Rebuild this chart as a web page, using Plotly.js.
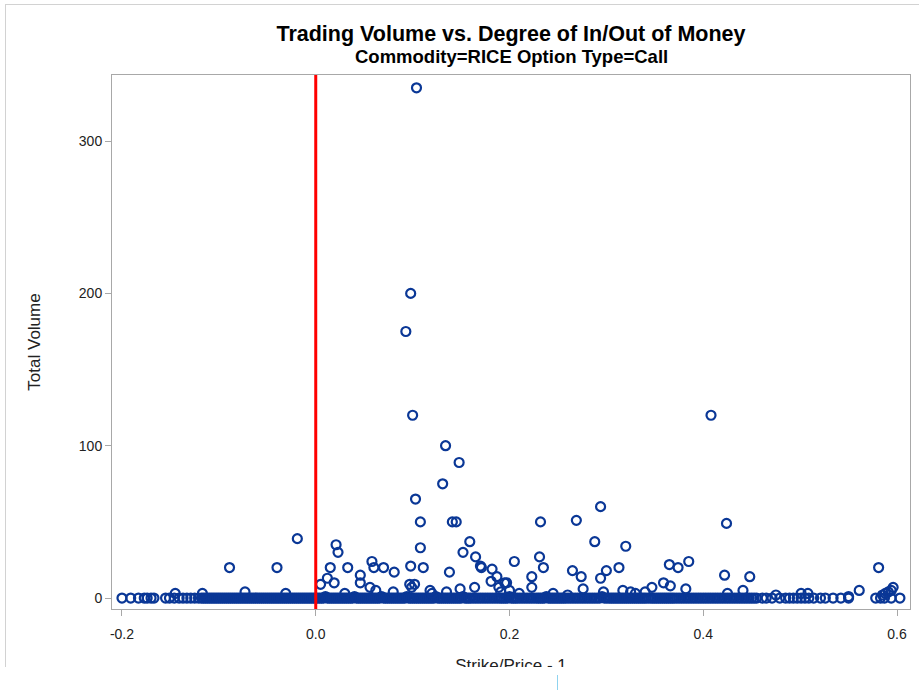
<!DOCTYPE html>
<html>
<head>
<meta charset="utf-8">
<script src="https://cdn.plot.ly/plotly-3.0.1.min.js"></script>
<style>
  html, body { margin: 0; padding: 0; background: #ffffff; }
  #wrap { position: relative; width: 919px; height: 690px; overflow: hidden; }
  #chart { position: absolute; left: 0; top: 0; width: 919px; height: 690px; }
  #frame { position: absolute; left: 5px; top: 4px; width: 914px; height: 663px;
           border-left: 1px solid #d2d2d2; border-top: 1px solid #d2d2d2;
           pointer-events: none; z-index: 5; }
  #cut { position: absolute; left: 0; top: 667px; width: 919px; height: 23px;
         background: #ffffff; z-index: 10; }
  #mark { position: absolute; left: 557px; top: 675px; width: 1px; height: 15px;
          background: #8fd3ef; z-index: 11; }
</style>
</head>
<body>
<div id="wrap">
  <div id="chart"></div>
  <div id="frame"></div>
  <div id="cut"></div>
  <div id="mark"></div>
</div>
<script>
// ---- Data ----
// Strike/Price - 1 for the dense low-volume band along the bottom
var bandX = [
  -0.200,-0.191,-0.183,-0.177,-0.174,-0.170,-0.167,-0.155,-0.151,-0.146,
  -0.141,-0.137,-0.133,-0.129,-0.125,-0.121,
  -0.118,-0.116,-0.114,-0.112,-0.110,-0.108,-0.106,-0.104,-0.102,-0.100,
  -0.098,-0.096,-0.094,-0.092,-0.090,-0.088,-0.086,-0.084,-0.082,-0.080,
  -0.078,-0.076,-0.074,-0.072,-0.070,-0.068,-0.066,-0.064,-0.062,-0.060,
  -0.058,-0.056,-0.054,-0.052,-0.050,-0.048,-0.046,-0.044,-0.042,-0.040,
  -0.038,-0.036,-0.034,-0.032,-0.030,-0.028,-0.026,-0.024,-0.022,-0.020,
  -0.018,-0.016,-0.014,-0.012,-0.010,-0.008,-0.006,-0.004,-0.002,0.000,
  0.002,0.004,0.006,0.008,0.010,0.012,0.014,0.016,0.018,0.020,
  0.022,0.024,0.026,0.028,0.030,0.032,0.034,0.036,0.038,0.040,
  0.042,0.044,0.046,0.048,0.050,0.052,0.054,0.056,0.058,0.060,
  0.062,0.064,0.066,0.068,0.070,0.072,0.074,0.076,0.078,0.080,
  0.082,0.084,0.086,0.088,0.090,0.092,0.094,0.096,0.098,0.100,
  0.102,0.104,0.106,0.108,0.110,0.112,0.114,0.116,0.118,0.120,
  0.122,0.124,0.126,0.128,0.130,0.132,0.134,0.136,0.138,0.140,
  0.142,0.144,0.146,0.148,0.150,0.152,0.154,0.156,0.158,0.160,
  0.1625,0.165,0.1675,0.170,0.1725,0.175,0.1775,0.180,0.1825,0.185,
  0.1875,0.190,0.192,0.194,0.196,0.198,0.200,0.202,0.204,0.206,
  0.208,0.2105,0.213,0.2155,0.218,0.2205,0.223,0.2255,0.228,0.230,
  0.232,0.234,0.236,0.238,0.240,0.242,0.244,0.246,0.248,0.250,
  0.252,0.254,0.256,0.258,0.2605,0.263,0.2655,0.268,0.2705,0.273,
  0.2755,0.278,0.2805,0.283,0.2855,0.288,0.2905,0.293,0.2955,0.298,
  0.3005,0.303,0.305,0.307,0.309,0.311,0.313,0.315,0.317,0.319,
  0.321,0.323,0.325,0.327,0.329,0.331,0.333,0.335,0.337,0.339,
  0.341,0.3435,0.346,0.348,0.350,0.352,0.354,0.356,0.358,0.360,
  0.362,0.364,0.366,0.368,0.370,0.3725,0.375,0.3775,0.380,0.3825,
  0.385,0.3875,0.390,0.3925,0.395,0.3975,0.400,0.4025,0.405,0.4075,
  0.410,0.4125,0.415,0.4175,0.420,0.4225,0.425,0.4275,0.430,0.4325,
  0.435,0.4375,0.440,0.4425,0.445,0.4475,0.450,0.4525,0.455,0.461,
  0.465,0.471,0.479,0.485,0.489,0.493,0.497,0.501,0.505,0.509,
  0.514,0.521,0.526,0.534,0.542,0.550,0.587,0.594
];
// Total Volume for the dense band (same order as bandX)
var bandVolume = [
  0,0,0,0,0,0,0,0,0,0,
  0,0,0,0,0,0,
  0,0,0,0,0,0,0,0,0,0,
  0,0,0,0,0,0,0,0,0,0,
  0,0,0,0,0,0,0,0,0,0,
  0,0,0,0,0,0,0,0,0,0,
  0,0,0,0,0,0,0,0,0,0,
  0,0,0,0,0,0,0,0,0,0,
  0,0,0,0,1,0,0,0,0,0,
  0,0,0,0,0,0,0,0,0,1,
  0,0,0,0,0,0,0,0,0,0,
  0,0,0,1,0,0,0,0,0,0,
  0,0,0,0,0,0,1,0,0,0,
  0,0,0,0,0,0,0,0,0,0,
  0,1,0,0,0,0,0,0,0,0,
  0,0,0,0,0,1,0,0,0,0,
  0,0,0,0,0,0,0,0,0,0,
  0,0,0,0,0,0,1,0,0,0,
  0,0,0,0,0,0,0,0,0,0,
  0,0,0,1,0,0,0,0,0,0,
  0,0,0,0,0,0,0,0,0,0,
  0,0,0,0,0,0,0,0,1,0,
  0,0,0,0,0,0,0,0,0,0,
  0,0,0,0,0,0,0,0,0,0,
  0,0,0,0,0,0,0,0,0,0,
  0,0,0,0,0,0,0,0,0,0,
  0,0,0,0,0,0,0,0,0,0,
  0,0,0,0,0,0,0,0,0,0,
  0,0,0,0,0,0,0,0,0,0,
  0,0,0,0,0,0,0,0,0,0,
  0,0,0,0,0,0,0,0
];
// Strike/Price - 1 for the scattered higher-volume trades
var spreadX = [
  0.104,0.098,0.093,0.100,0.408,0.134,0.148,0.131,0.103,0.294,
  0.141,0.145,0.108,0.232,0.269,0.424,-0.019,0.159,0.288,0.320,
  0.021,0.023,0.108,0.152,-0.040,-0.089,0.015,0.033,0.058,0.060,
  0.070,0.081,0.098,0.111,0.138,0.165,0.170,0.171,0.182,0.187,
  0.181,0.195,0.012,0.005,0.019,0.046,0.046,0.056,0.062,0.097,
  0.102,0.099,0.118,0.149,0.164,0.189,0.191,0.205,0.231,0.235,
  0.265,0.274,0.300,0.294,0.313,0.365,0.374,0.385,0.223,0.197,
  0.223,0.276,0.359,0.366,0.347,0.382,0.200,0.317,0.325,0.297,
  0.422,0.448,0.581,0.441,0.425,0.475,0.501,0.508,0.550,0.561,
  0.596,0.591,0.588,0.603,0.578,0.583,0.585,0.594,-0.073,-0.031,
  -0.145,-0.117,0.030,0.080,0.120,0.135,0.210,0.245,0.260,0.330,
  0.340
];
// Total Volume for the scattered trades
var spreadVolume = [
  335,200,175,120,120,100,89,75,65,60,
  50,50,50,50,51,49,39,37,37,34,
  35,30,33,30,20,20,20,20,24,20,
  20,17,21,20,17,27,21,20,19,14,
  11,10,13,9,10,15,10,7,5,9,
  9,7,5,6,7,7,4,24,27,20,
  18,14,18,13,20,22,20,24,14,10,
  7,6,10,8,7,6,5,5,4,4,
  15,14,20,5,3,2,3,3,1,5,
  7,4,3,0,0,0,2,5,4,3,
  3,3,3,4,3,4,3,3,2,3,
  4
];
var xTickVals = [-0.2, 0.0, 0.2, 0.4, 0.6];
var xTickText = ["-0.2", "0.0", "0.2", "0.4", "0.6"];
var yTickVals = [0, 100, 200, 300];
var yTickText = ["0", "100", "200", "300"];

var FONT = "Liberation Sans, Arial, Helvetica, sans-serif";

var trace = {
  type: "scatter",
  mode: "markers",
  x: bandX.concat(spreadX),
  y: bandVolume.concat(spreadVolume),
  marker: {
    symbol: "circle-open",
    size: 9,
    opacity: 1,
    color: "#0a3796",
    line: { color: "#0a3796", width: 2.2 }
  },
  hoverinfo: "x+y",
  showlegend: false
};

var axisCommon = {
  showline: true,
  linecolor: "#a8a8a8",
  linewidth: 1,
  mirror: true,
  ticks: "outside",
  ticklen: 6,
  tickwidth: 1,
  tickcolor: "#a8a8a8",
  showgrid: false,
  zeroline: false,
  tickfont: { family: FONT, size: 14, color: "#222222" }
};

var layout = {
  width: 919,
  height: 690,
  paper_bgcolor: "#ffffff",
  plot_bgcolor: "#ffffff",
  margin: { l: 112, r: 9, t: 75, b: 81 },
  title: {
    text: "<b>Trading Volume vs. Degree of In/Out of Money</b>",
    font: { family: FONT, size: 21.5, color: "#000000" },
    x: 0.5, xref: "paper", xanchor: "center",
    y: 1 - 33 / 690, yref: "container", yanchor: "middle"
  },
  annotations: [{
    text: "<b>Commodity=RICE Option Type=Call</b>",
    xref: "paper", yref: "paper", x: 0.5, y: (609 - 57) / 534,
    xanchor: "center", yanchor: "middle", showarrow: false,
    font: { family: FONT, size: 18.5, color: "#000000" }
  }],
  xaxis: Object.assign({}, axisCommon, {
    range: [-0.2103, 0.6134],
    tickvals: xTickVals,
    ticktext: xTickText,
    ticklabelstandoff: 6,
    title: { text: "Strike/Price - 1", font: { family: FONT, size: 17, color: "#222222" }, standoff: 18 }
  }),
  yaxis: Object.assign({}, axisCommon, {
    range: [-7.2, 343.4],
    tickvals: yTickVals,
    ticktext: yTickText,
    title: { text: "Total Volume", font: { family: FONT, size: 17, color: "#222222" }, standoff: 33 }
  }),
  shapes: [{
    type: "line", layer: "above",
    xref: "x", yref: "paper",
    x0: 0, x1: 0, y0: 0, y1: 1,
    line: { color: "#ff0000", width: 3 }
  }]
};

Plotly.newPlot("chart", [trace], layout, { displayModeBar: false, staticPlot: true });
</script>
</body>
</html>
